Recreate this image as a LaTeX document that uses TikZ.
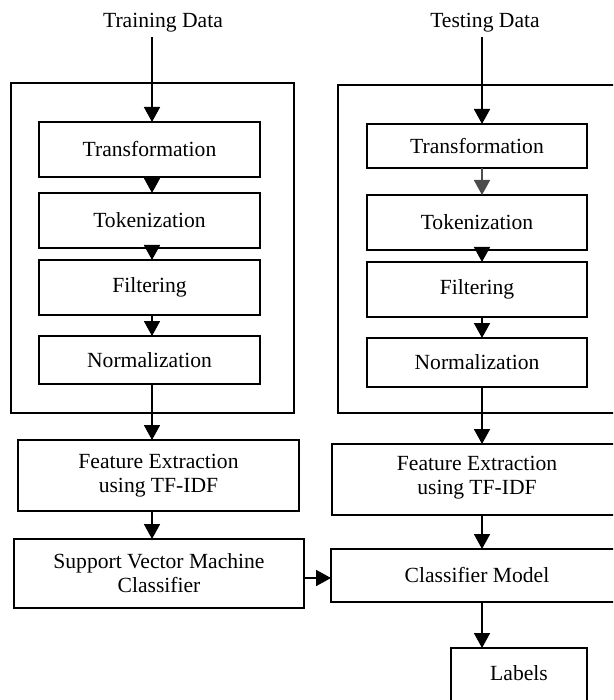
\documentclass[tikz,border=0pt]{standalone}
\usepackage{fontspec}
\setmainfont{Liberation Serif}
\usetikzlibrary{arrows.meta}
\begin{document}
\begin{tikzpicture}[x=1pt,y=-1pt,
  box/.style={draw, line width=1.8pt, rectangle, inner sep=0pt, outer sep=0pt, align=center, font=\fontsize{21.6}{24}\selectfont},
  txt/.style={inner sep=0pt, outer sep=0pt, align=center, font=\fontsize{21.6}{24}\selectfont},
  arr/.style={line width=1.8pt, -{Triangle[length=15pt,width=16pt]}},
]
\useasboundingbox (0,0) rectangle (613,700);
\clip (0,0) rectangle (613,700);

\coordinate (colL) at (152,0);
\coordinate (colR) at (482,0);

% left column
\node[txt, inner ysep=5pt] (trainD) at (163,23) {Training Data};
\node[box, minimum width=283pt, minimum height=330pt] (outerL) at (152.5,248) {};
\node[box, minimum width=221pt, minimum height=55pt] (transL) at (149.5,149.5) {Transformation};
\node[box, minimum width=221pt, minimum height=55pt] (tokL) at (149.5,220.5) {Tokenization};
\node[box, minimum width=221pt, minimum height=55pt] (filL) at (149.5,287.5) {Filtering};
\node[box, minimum width=221pt, minimum height=48pt] (normL) at (149.5,360) {Normalization};
\node[box, minimum width=281pt, minimum height=71pt] (featL) at (158.5,475.5) {Feature Extraction\\using TF-IDF};
\node[box, minimum width=290pt, minimum height=69pt] (svm) at (159,573.5) {Support Vector Machine\\Classifier};

% right column
\node[txt, inner ysep=5pt] (testD) at (485,23) {Testing Data};
\node[box, minimum width=302pt, minimum height=328pt] (outerR) at (489,249) {};
\node[box, minimum width=220pt, minimum height=44pt] (transR) at (477,146) {Transformation};
\node[box, minimum width=220pt, minimum height=55pt] (tokR) at (477,222.5) {Tokenization};
\node[box, minimum width=220pt, minimum height=55pt] (filR) at (477,289.5) {Filtering};
\node[box, minimum width=220pt, minimum height=49pt] (normR) at (477,362.5) {Normalization};
\node[box, minimum width=308pt, minimum height=71pt] (featR) at (486,479.5) {};
\node[txt] (featRT) at (477,478) {Feature Extraction\\using TF-IDF};
\node[box, minimum width=309pt, minimum height=53pt] (cls) at (485.5,575.5) {};
\node[txt] (clsT) at (477,575) {Classifier Model};
\node[box, minimum width=136pt, minimum height=72pt] (lab) at (519,684) {};
\node[txt] (labT) at (519,673) {Labels};

% left arrows
\draw[arr] (colL |- trainD.south) -- (colL |- transL.north);
\draw[arr] (colL |- transL.south) -- (colL |- tokL.north);
\draw[arr] (colL |- tokL.south) -- (colL |- filL.north);
\draw[arr] (colL |- filL.south) -- (colL |- normL.north);
\draw[arr] (colL |- normL.south) -- (colL |- featL.north);
\draw[arr] (colL |- featL.south) -- (colL |- svm.north);
\draw[arr] ([yshift=-4.5pt]svm.east) -- ([yshift=-4.5pt]svm.east -| cls.west);

% right arrows
\draw[arr] (colR |- testD.south) -- (colR |- transR.north);
\draw[arr, draw=black!70, fill=black!70] (colR |- transR.south) -- (colR |- tokR.north);
\draw[arr] (colR |- tokR.south) -- (colR |- filR.north);
\draw[arr] (colR |- filR.south) -- (colR |- normR.north);
\draw[arr] (colR |- normR.south) -- (colR |- featR.north);
\draw[arr] (colR |- featR.south) -- (colR |- cls.north);
\draw[arr] (colR |- cls.south) -- (colR |- lab.north);
\end{tikzpicture}
\end{document}
